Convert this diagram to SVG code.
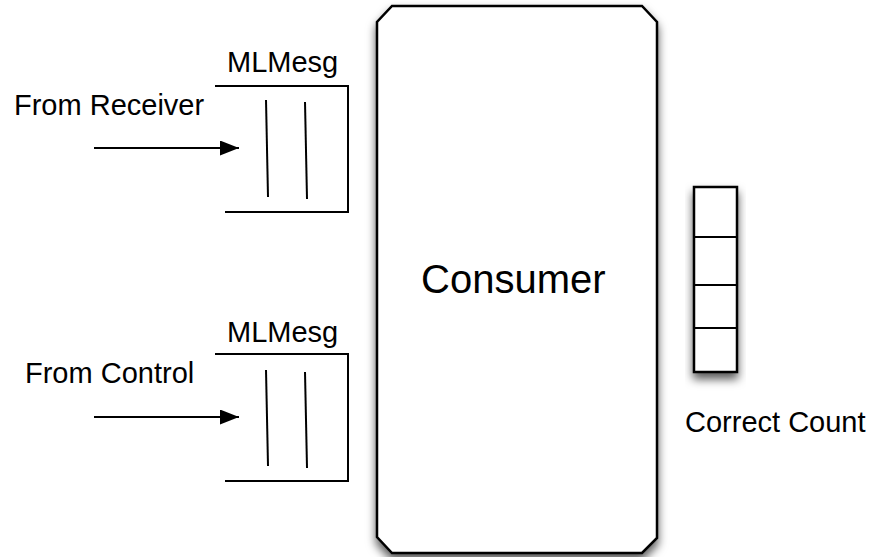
<svg xmlns="http://www.w3.org/2000/svg" width="873" height="557" viewBox="0 0 873 557">
  <style>
    text { font-family: "Liberation Sans", Arial, sans-serif; fill: #000; }
    .lbl { font-size: 29px; }
    .big { font-size: 40px; }
    .ln { stroke: #000; stroke-width: 2; fill: none; }
    .box { stroke: #000; stroke-width: 2.5; fill: #fff; }
  </style>
  <defs>
    <filter id="shadow" x="-20%" y="-20%" width="140%" height="140%">
      <feDropShadow dx="0" dy="6" stdDeviation="5" flood-color="#000" flood-opacity="0.65"/>
    </filter>
    <marker id="arrow" markerWidth="19" markerHeight="15" refX="19" refY="7.5" orient="auto" markerUnits="userSpaceOnUse">
      <path d="M0,0 L19,7.5 L0,15 Z" fill="#000"/>
    </marker>
  </defs>

  <g id="consumer">
    <path class="box" filter="url(#shadow)" d="M392,6 L642,6 L657,22 L657,538 L642,553 L392,553 L377,537 L377,22 Z"/>
    <text class="big" x="421" y="293">Consumer</text>
  </g>

  <g id="queue-receiver">
    <text class="lbl" x="227" y="72">MLMesg</text>
    <path class="ln" d="M215,86 L348,86 L348,212 L225,212"/>
    <line class="ln" x1="266" y1="100" x2="268" y2="197"/>
    <line class="ln" x1="305" y1="102" x2="307" y2="199"/>
  </g>

  <g id="queue-control">
    <text class="lbl" x="227" y="342">MLMesg</text>
    <path class="ln" d="M215,354 L348,354 L348,481 L225,481"/>
    <line class="ln" x1="266" y1="370" x2="268" y2="466"/>
    <line class="ln" x1="305" y1="372" x2="307" y2="468"/>
  </g>

  <g id="label-receiver">
    <text class="lbl" x="14" y="115">From Receiver</text>
  </g>
  <g id="label-control">
    <text class="lbl" x="25" y="383">From Control</text>
  </g>

  <g id="correct-count">
    <rect class="box" filter="url(#shadow)" x="694" y="187" width="43" height="185"/>
    <line class="ln" x1="694" y1="237" x2="737" y2="237"/>
    <line class="ln" x1="694" y1="285" x2="737" y2="285"/>
    <line class="ln" x1="694" y1="328" x2="737" y2="328"/>
    <text class="lbl" x="685" y="432">Correct Count</text>
  </g>

  <g id="connectors">
    <line class="ln" x1="94" y1="148" x2="239" y2="148" marker-end="url(#arrow)"/>
    <line class="ln" x1="94" y1="417" x2="239" y2="417" marker-end="url(#arrow)"/>
  </g>
</svg>
